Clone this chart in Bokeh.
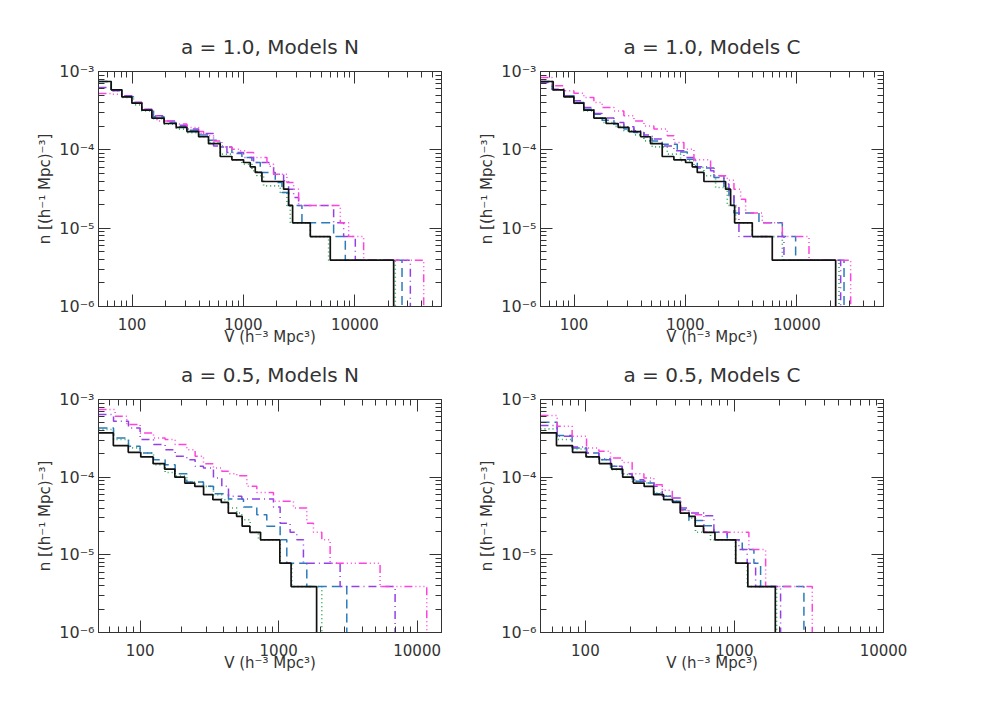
from bokeh.plotting import figure
from bokeh.models import LogAxis, FixedTicker, CustomJSTickFormatter, Range1d
from bokeh.layouts import column, row
from bokeh.embed import file_html
from bokeh.resources import INLINE

# ---------------- axis settings ----------------
X_MIN = 50
X_MAX_TOP = 60000
X_MAX_BL = 15000
X_MAX_BR = 10000
Y_MIN, Y_MAX = 1e-6, 1e-3
X_MAJOR = [100, 1000, 10000]
Y_MAJOR = [1e-6, 1e-5, 1e-4, 1e-3]

TITLES = ["a = 1.0, Models N", "a = 1.0, Models C", "a = 0.5, Models N", "a = 0.5, Models C"]
X_LABEL = "V (h\u207b\u00b3 Mpc\u00b3)"
Y_LABEL = "n [(h\u207b\u00b9 Mpc)\u207b\u00b3]"

# ---------------- data: step edges V and level n ----------------
# a = 1.0, LCDM reference (black, solid) - same in both top panels
V_A10_BLACK = [50, 65, 81, 99.7, 122.5, 150.7, 194, 249, 311, 396, 486, 619, 788, 1003, 1151, 1277, 1466, 2294, 2545, 2764, 3983, 6020, 22320]
N_A10_BLACK = [7.45e-4, 5.84e-4, 4.75e-4, 3.94e-4, 3.21e-4, 2.54e-4, 2.17e-4, 1.93e-4, 1.71e-4, 1.47e-4, 1.20e-4, 8.22e-5, 7.45e-5, 6.89e-5, 6.07e-5, 5.14e-5, 3.94e-5, 3.15e-5, 1.95e-5, 1.17e-5, 7.8e-6, 3.9e-6]

# a = 1.0, Models N
V_A10N_GREEN = [50, 65, 81, 103, 122.5, 150.7, 194, 249, 311, 396, 486, 619, 788, 969, 1192, 1322, 1517, 2141, 2458, 2634, 3983, 5819, 23100]
N_A10N_GREEN = [7.45e-4, 5.67e-4, 4.65e-4, 3.75e-4, 3.14e-4, 2.49e-4, 2.13e-4, 1.84e-4, 1.66e-4, 1.47e-4, 1.24e-4, 8.81e-5, 7.45e-5, 6.56e-5, 5.4e-5, 4.66e-5, 3.47e-5, 2.85e-5, 1.95e-5, 1.17e-5, 7.8e-6, 3.9e-6]
V_A10N_BLUE = [50, 65, 81, 103, 122.5, 156, 194, 249, 311, 396, 486, 619, 788, 969, 1192, 1416, 1931, 2217, 2545, 3352, 6453, 8215, 26530]
N_A10N_BLUE = [7.45e-4, 5.84e-4, 4.75e-4, 4.02e-4, 3.21e-4, 2.64e-4, 2.23e-4, 1.97e-4, 1.78e-4, 1.55e-4, 1.33e-4, 1.09e-4, 8.97e-5, 7.98e-5, 6.89e-5, 5.14e-5, 3.83e-5, 2.85e-5, 1.95e-5, 1.17e-5, 7.8e-6, 3.9e-6]
V_A10N_PURPLE = [50, 65, 81, 99.7, 122.5, 150.7, 194, 249, 311, 396, 539, 711, 1003, 1234, 1741, 1866, 2294, 2545, 2822, 3129, 6453, 7935, 10100, 31520]
N_A10N_PURPLE = [6.25e-4, 5.67e-4, 4.89e-4, 4.02e-4, 3.30e-4, 2.72e-4, 2.34e-4, 2.06e-4, 1.84e-4, 1.62e-4, 1.12e-4, 9.24e-5, 7.98e-5, 6.89e-5, 5.94e-5, 4.89e-5, 4.02e-5, 3.15e-5, 2.46e-5, 1.95e-5, 1.17e-5, 7.8e-6, 3.9e-6]
V_A10N_MAGENTA = [50, 65, 81, 99.7, 122.5, 150.7, 167, 236, 311, 396, 439, 539, 641, 788, 937, 1075, 1234, 1626, 1866, 2458, 2822, 3129, 7410, 8800, 12000, 41520]
N_A10N_MAGENTA = [5.24e-4, 5.14e-4, 4.75e-4, 4.02e-4, 3.30e-4, 2.72e-4, 2.34e-4, 2.13e-4, 1.93e-4, 1.71e-4, 1.51e-4, 1.30e-4, 1.09e-4, 1.02e-4, 9.71e-5, 9.24e-5, 7.98e-5, 6.56e-5, 4.89e-5, 3.83e-5, 3.15e-5, 1.95e-5, 1.17e-5, 7.8e-6, 3.9e-6]

# a = 1.0, Models C
V_A10C_GREEN = [50, 63.6, 81, 99.7, 122.5, 150.7, 179, 228, 280, 345, 424, 503, 687, 905, 1192, 1466, 1866, 2375, 2822, 3983, 7410, 23920]
N_A10C_GREEN = [7.45e-4, 5.84e-4, 4.75e-4, 3.90e-4, 3.14e-4, 2.54e-4, 2.23e-4, 1.99e-4, 1.75e-4, 1.55e-4, 1.30e-4, 1.09e-4, 8.81e-5, 7.24e-5, 5.94e-5, 4.66e-5, 3.31e-5, 1.95e-5, 1.17e-5, 7.8e-6, 3.9e-6]
V_A10C_BLUE = [50, 63.6, 81, 99.7, 122.5, 150.7, 179, 228, 280, 345, 424, 503, 619, 845, 1039, 1277, 1803, 2217, 2458, 2726, 4572, 7410, 9758, 26530]
N_A10C_BLUE = [7.45e-4, 5.84e-4, 4.89e-4, 4.02e-4, 3.30e-4, 2.85e-4, 2.39e-4, 2.13e-4, 1.84e-4, 1.66e-4, 1.47e-4, 1.30e-4, 1.18e-4, 9.4e-5, 7.6e-5, 5.86e-5, 4.45e-5, 3.31e-5, 2.60e-5, 1.56e-5, 1.17e-5, 7.8e-6, 3.9e-6]
V_A10C_PURPLE = [50, 63.6, 81, 99.7, 122.5, 150.7, 179, 228, 280, 345, 424, 503, 619, 788, 969, 1234, 1682, 1803, 2217, 2458, 2726, 3023, 7665, 24750]
N_A10C_PURPLE = [7.25e-4, 5.95e-4, 4.89e-4, 4.22e-4, 3.47e-4, 2.91e-4, 2.54e-4, 2.23e-4, 1.97e-4, 1.75e-4, 1.55e-4, 1.37e-4, 1.12e-4, 9.71e-5, 7.98e-5, 6.07e-5, 5.4e-5, 4.66e-5, 3.65e-5, 2.72e-5, 1.95e-5, 7.8e-6, 3.9e-6]
V_A10C_MAGENTA = [50, 63.6, 81, 99.7, 122.5, 150.7, 179, 228, 280, 345, 424, 521, 687, 788, 969, 1192, 1682, 1803, 2375, 2726, 3129, 3470, 4897, 7410, 12860, 30430]
N_A10C_MAGENTA = [8.38e-4, 6.56e-4, 5.67e-4, 5.29e-4, 4.66e-4, 4.02e-4, 3.47e-4, 3.14e-4, 2.72e-4, 2.34e-4, 2.02e-4, 1.84e-4, 1.51e-4, 1.24e-4, 1.02e-4, 7.45e-5, 5.94e-5, 4.66e-5, 4.1e-5, 3.15e-5, 2.34e-5, 1.56e-5, 1.17e-5, 7.8e-6, 3.9e-6]

# a = 0.5, LCDM reference (black) - same in both bottom panels
V_A05_BLACK = [50, 64, 82, 101, 124, 150, 178, 210, 248, 287, 335, 385, 433, 497, 545, 620, 740, 1020, 1230, 1880]
N_A05_BLACK = [3.71e-4, 2.55e-4, 2.09e-4, 1.82e-4, 1.49e-4, 1.27e-4, 1.0e-4, 8.4e-5, 7.6e-5, 5.95e-5, 5.13e-5, 4.73e-5, 3.45e-5, 3.13e-5, 2.34e-5, 1.95e-5, 1.56e-5, 7.8e-6, 3.9e-6]

# a = 0.5, Models N
V_A05N_GREEN = [50, 64.2, 82.3, 99.9, 124.8, 151.4, 178.9, 217.2, 286.5, 338.2, 388.6, 434.2, 498.6, 542, 622.5, 714.9, 1025, 1244, 2049]
N_A05N_GREEN = [4.10e-4, 3.05e-4, 2.38e-4, 2.05e-4, 1.45e-4, 1.15e-4, 1.03e-4, 8.67e-5, 7.62e-5, 5.94e-5, 5.13e-5, 4.0e-5, 3.45e-5, 2.83e-5, 1.95e-5, 1.56e-5, 7.8e-6, 3.9e-6]
V_A05N_BLUE = [50, 64.2, 82.3, 99.9, 124.8, 151.4, 178.9, 217.2, 286.5, 338.2, 434.2, 557.2, 695.4, 821.1, 1025, 1145, 1597, 3105]
N_A05N_BLUE = [4.31e-4, 3.20e-4, 2.50e-4, 2.05e-4, 1.68e-4, 1.45e-4, 1.11e-4, 8.67e-5, 7.62e-5, 6.12e-5, 5.23e-5, 4.13e-5, 3.28e-5, 2.34e-5, 1.56e-5, 7.8e-6, 3.9e-6]
V_A05N_PURPLE = [50, 64.2, 82.3, 99.9, 124.8, 151.4, 178.9, 217.2, 249.4, 286.5, 338.2, 388.6, 434.2, 542, 917.3, 1025, 1210, 1352, 1510, 2779, 6933]
N_A05N_PURPLE = [6.40e-4, 5.25e-4, 4.31e-4, 3.05e-4, 2.63e-4, 2.26e-4, 1.86e-4, 1.68e-4, 1.38e-4, 1.31e-4, 9.75e-5, 7.62e-5, 5.66e-5, 5.23e-5, 4.13e-5, 2.56e-5, 1.95e-5, 1.56e-5, 7.8e-6, 3.9e-6]
V_A05N_MAGENTA = [50, 65.9, 80.1, 99.9, 124.8, 151.4, 178.9, 217.2, 249.4, 286.5, 338.2, 388.6, 434.2, 498.6, 588.9, 695.4, 917.3, 1279, 1597, 1784, 2049, 2354, 5402, 11740]
N_A05N_MAGENTA = [7.43e-4, 6.09e-4, 4.76e-4, 3.71e-4, 3.20e-4, 3.05e-4, 2.63e-4, 2.26e-4, 1.86e-4, 1.49e-4, 1.31e-4, 1.19e-4, 1.11e-4, 1.04e-4, 7.62e-5, 6.37e-5, 4.88e-5, 4.0e-5, 2.56e-5, 1.95e-5, 1.56e-5, 7.8e-6, 3.9e-6]

# a = 0.5, Models C
V_A05C_GREEN = [50, 64.7, 81.5, 101.8, 123.2, 147.5, 176.6, 206, 247, 288, 328, 383, 435, 495, 548, 691, 1017, 1218, 1918]
N_A05C_GREEN = [4.18e-4, 3.05e-4, 2.31e-4, 1.82e-4, 1.68e-4, 1.25e-4, 1.08e-4, 8.83e-5, 8.41e-5, 6.25e-5, 5.77e-5, 4.88e-5, 3.45e-5, 2.97e-5, 1.95e-5, 1.56e-5, 7.8e-6, 3.9e-6]
V_A05C_BLUE = [50, 64.7, 81.5, 101.8, 123.2, 147.5, 176.6, 206, 247, 288, 328, 383, 435, 495, 624, 728, 894.6, 1128, 1351, 1498, 2925]
N_A05C_BLUE = [5.10e-4, 3.43e-4, 2.38e-4, 2.05e-4, 1.68e-4, 1.38e-4, 1.11e-4, 8.83e-5, 8.41e-5, 6.12e-5, 5.66e-5, 4.88e-5, 3.81e-5, 2.77e-5, 2.37e-5, 1.95e-5, 1.56e-5, 1.17e-5, 7.8e-6, 3.9e-6]
V_A05C_PURPLE = [50, 64.7, 81.5, 101.8, 123.2, 147.5, 176.6, 206, 247, 288, 328, 383, 435, 495, 624, 728, 894.6, 1071, 1218, 1387, 2040]
N_A05C_PURPLE = [4.62e-4, 3.37e-4, 2.45e-4, 2.05e-4, 1.72e-4, 1.38e-4, 1.11e-4, 9.29e-5, 8.83e-5, 7.62e-5, 5.66e-5, 5.38e-5, 4.0e-5, 3.45e-5, 3.18e-5, 1.95e-5, 1.56e-5, 1.17e-5, 7.8e-6, 3.9e-6]
V_A05C_MAGENTA = [50, 64.7, 81.5, 101.8, 123.2, 147.5, 176.6, 206, 247, 288, 328, 383, 435, 495, 548, 624, 1250, 1619, 3328]
N_A05C_MAGENTA = [6.22e-4, 4.53e-4, 3.37e-4, 2.38e-4, 2.15e-4, 1.77e-4, 1.55e-4, 1.11e-4, 9.75e-5, 8.0e-5, 6.76e-5, 5.38e-5, 3.73e-5, 3.52e-5, 3.28e-5, 1.95e-5, 1.17e-5, 3.9e-6]

# ---------------- styles ----------------
STYLE = {
    "green": dict(color="#2ea85a", line_width=1.6, line_dash="1 3"),
    "blue": dict(color="#2b7bba", line_width=1.5, line_dash="9 5"),
    "purple": dict(color="#9440e6", line_width=1.5, line_dash="8 4 1 4"),
    "magenta": dict(color="#ff44dd", line_width=1.5, line_dash="8 3 1 3 1 3 1 3"),
    "black": dict(color="#111111", line_width=1.7, line_dash="solid"),
}
TEXT_COLOR = "#333333"
AXIS_COLOR = "#333333"
FONT = "DejaVu Sans"


def step_path(v, n, floor=1e-8):
    xs, ys = [v[0]], [n[0]]
    for i in range(len(n)):
        xs.append(v[i + 1]); ys.append(n[i])
        nxt = n[i + 1] if i + 1 < len(n) else floor
        xs.append(v[i + 1]); ys.append(nxt)
    return xs, ys


def minor_ticks(lo, hi):
    out = []
    d = 1e-9
    while d < hi * 10:
        for m in range(2, 10):
            t = m * d
            if lo * 0.999 <= t <= hi * 1.001:
                out.append(t)
        d *= 10
    return out


X_FMT = "return String(Math.round(tick));"
Y_FMT = ("const e = Math.round(Math.log10(tick));"
         "const s = {'-':'\u207b','0':'\u2070','1':'\u00b9','2':'\u00b2','3':'\u00b3','4':'\u2074','5':'\u2075','6':'\u2076','7':'\u2077','8':'\u2078','9':'\u2079'};"
         "return '10' + String(e).split('').map(c => s[c]).join('');")


def style_axis(ax, show_labels):
    ax.axis_line_color = AXIS_COLOR
    ax.axis_line_width = 1
    ax.major_tick_line_color = AXIS_COLOR
    ax.minor_tick_line_color = AXIS_COLOR
    ax.major_tick_in = 12
    ax.major_tick_out = 0
    ax.minor_tick_in = 6
    ax.minor_tick_out = 0
    if show_labels:
        ax.major_label_text_font = FONT
        ax.major_label_text_font_size = "15px"
        ax.major_label_text_color = TEXT_COLOR
        ax.axis_label_text_font = FONT
        ax.axis_label_text_font_size = "15px"
        ax.axis_label_text_color = TEXT_COLOR
        ax.axis_label_text_font_style = "normal"
    else:
        ax.major_label_text_font_size = "0px"
        ax.major_label_standoff = 0


def make_panel(title, xmax, series, frame_h, left, right, top, bottom, title_gap):
    p = figure(x_axis_type="log", y_axis_type="log",
               x_range=Range1d(X_MIN, xmax), y_range=Range1d(Y_MIN, Y_MAX),
               frame_width=343, frame_height=frame_h,
               min_border_left=left, min_border_right=right,
               min_border_top=top, min_border_bottom=bottom,
               output_backend="svg", toolbar_location=None)
    p.xgrid.visible = False
    p.ygrid.visible = False
    p.outline_line_color = AXIS_COLOR
    p.background_fill_color = "white"
    p.border_fill_color = "white"

    p.title.text = title
    p.title.align = "center"
    p.title.text_font = FONT
    p.title.text_font_size = "20px"
    p.title.text_font_style = "normal"
    p.title.text_color = TEXT_COLOR
    p.title.standoff = title_gap

    xt = FixedTicker(ticks=X_MAJOR, minor_ticks=minor_ticks(X_MIN, xmax))
    yt = FixedTicker(ticks=Y_MAJOR, minor_ticks=minor_ticks(Y_MIN, Y_MAX))

    xa = p.xaxis[0]
    xa.ticker = xt
    xa.formatter = CustomJSTickFormatter(code=X_FMT)
    xa.axis_label = X_LABEL
    style_axis(xa, True)
    xa.major_label_standoff = 11
    xa.axis_label_standoff = -5

    ya = p.yaxis[0]
    ya.ticker = yt
    ya.formatter = CustomJSTickFormatter(code=Y_FMT)
    ya.axis_label = Y_LABEL
    style_axis(ya, True)
    ya.major_label_text_font_size = "16px"
    ya.major_label_standoff = 4
    ya.axis_label_standoff = 2

    top_ax = LogAxis(ticker=xt, formatter=CustomJSTickFormatter(code="return '';"))
    style_axis(top_ax, False)
    p.add_layout(top_ax, "above")
    right_ax = LogAxis(ticker=yt, formatter=CustomJSTickFormatter(code="return '';"))
    style_axis(right_ax, False)
    p.add_layout(right_ax, "right")

    for name, v, n in series:
        xs, ys = step_path(v, n)
        p.line(xs, ys, **STYLE[name])
    return p


p1 = make_panel(TITLES[0], X_MAX_TOP, [
    ("green", V_A10N_GREEN, N_A10N_GREEN),
    ("blue", V_A10N_BLUE, N_A10N_BLUE),
    ("purple", V_A10N_PURPLE, N_A10N_PURPLE),
    ("magenta", V_A10N_MAGENTA, N_A10N_MAGENTA),
    ("black", V_A10_BLACK, N_A10_BLACK)], 235, 98, 29, 71, 42, 25)
p2 = make_panel(TITLES[1], X_MAX_TOP, [
    ("green", V_A10C_GREEN, N_A10C_GREEN),
    ("blue", V_A10C_BLUE, N_A10C_BLUE),
    ("purple", V_A10C_PURPLE, N_A10C_PURPLE),
    ("magenta", V_A10C_MAGENTA, N_A10C_MAGENTA),
    ("black", V_A10_BLACK, N_A10_BLACK)], 235, 70, 40, 71, 42, 25)
p3 = make_panel(TITLES[2], X_MAX_BL, [
    ("green", V_A05N_GREEN, N_A05N_GREEN),
    ("blue", V_A05N_BLUE, N_A05N_BLUE),
    ("purple", V_A05N_PURPLE, N_A05N_PURPLE),
    ("magenta", V_A05N_MAGENTA, N_A05N_MAGENTA),
    ("black", V_A05_BLACK, N_A05_BLACK)], 233, 98, 29, 50, 46, 25)
p4 = make_panel(TITLES[3], X_MAX_BR, [
    ("green", V_A05C_GREEN, N_A05C_GREEN),
    ("blue", V_A05C_BLUE, N_A05C_BLUE),
    ("purple", V_A05C_PURPLE, N_A05C_PURPLE),
    ("magenta", V_A05C_MAGENTA, N_A05C_MAGENTA),
    ("black", V_A05_BLACK, N_A05_BLACK)], 233, 70, 40, 50, 46, 25)

layout = column(row(p1, p2), row(p3, p4))
open("out.html", "w").write(file_html(layout, INLINE))
